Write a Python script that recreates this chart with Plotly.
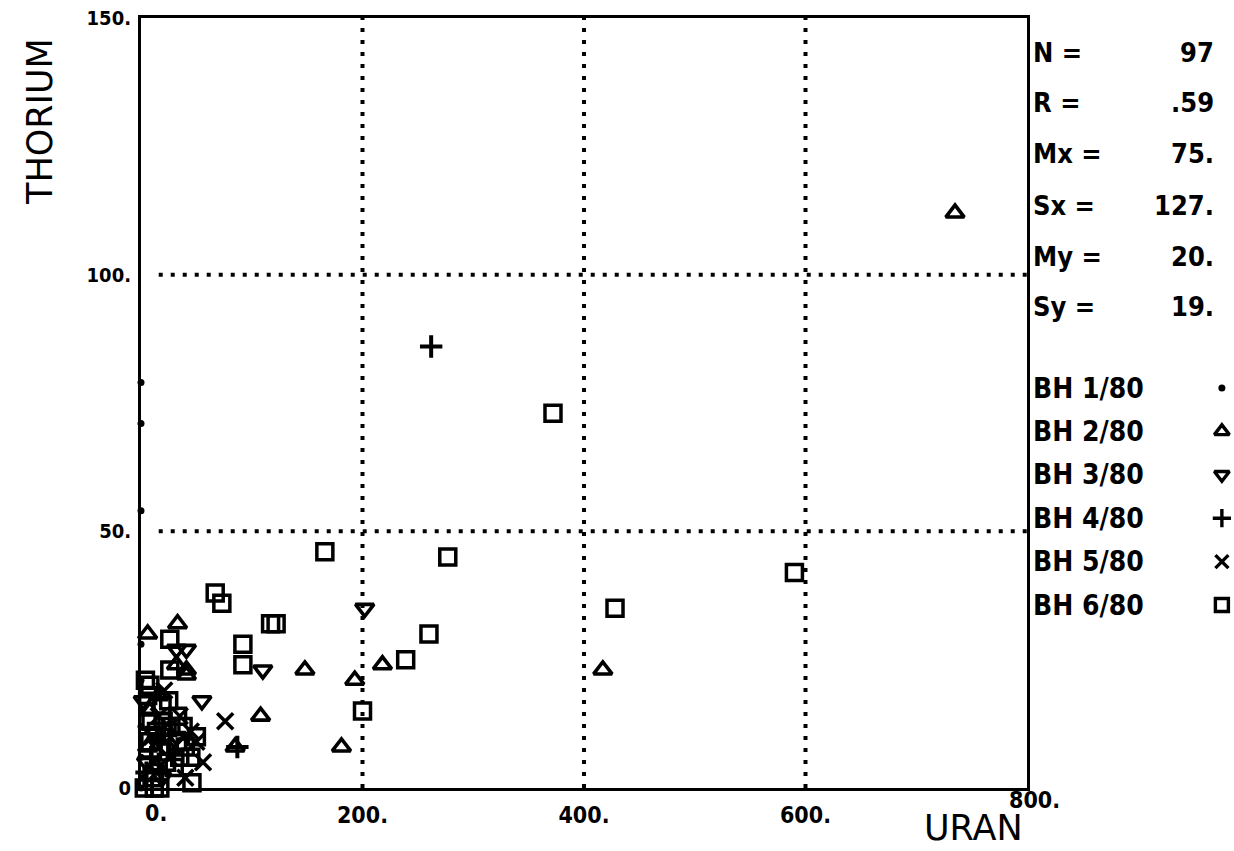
import plotly.graph_objects as go

# ---------------- data ----------------
bh1_x = [0, 0, 0, 0, 0, 0, 0, 1, 1, 0]
bh1_y = [79, 71, 54, 28, 21, 12, 6, 2, 15, 0]

bh2_x = [735, 417, 148, 193, 218, 181, 108, 85, 33, 6, 41, 32, 41, 6, 14, 24, 8, 16]
bh2_y = [112, 23, 23, 21, 24, 8, 14, 8, 32, 30, 22, 24, 23, 8, 4, 11, 15, 18]

bh3_x = [202, 110, 55, 32, 41, 2, 5, 19, 12, 32]
bh3_y = [35, 23, 17, 27, 27, 17, 5, 2, 11, 10]

bh4_x = [262, 87, 9, 18, 5]
bh4_y = [86, 8, 6, 9, 3]

bh5_x = [76, 56, 35, 45, 25, 16, 40, 30, 10, 50, 14, 21]
bh5_y = [13, 5, 14, 11, 6, 14, 2, 8, 10, 9, 3, 19]

bh6_x = [372, 166, 277, 590, 428, 260, 239, 200, 67, 73, 117, 122, 92, 92, 46,
         26, 26, 4, 8, 3, 12, 9, 14, 20, 27, 33, 17, 23, 30, 12, 35, 40, 45, 8,
         19, 25, 6, 10, 17, 33, 38, 50]
bh6_y = [73, 46, 45, 42, 35, 30, 25, 15, 38, 36, 32, 32, 28, 24, 1,
         29, 23, 21, 20, 0, 0, 13, 11, 13, 12, 9, 7, 5, 4, 3, 6, 8, 6, 9,
         16, 17, 18, 2, 0, 14, 12, 10]

group_names = ["BH 1/80", "BH 2/80", "BH 3/80", "BH 4/80", "BH 5/80", "BH 6/80"]

stat_labels = ["N =", "R =", "Mx =", "Sx =", "My =", "Sy ="]
stat_values = ["97", ".59", "75.", "127.", "20.", "19."]

x_ticks = [0, 200, 400, 600, 800]
x_ticktext = ["0.", "200.", "400.", "600.", "800."]
y_ticks = [0, 50, 100, 150]
y_ticktext = ["0", "50.", "100.", "150."]
x_grid = [200, 400, 600]
y_grid = [50, 100]

# ---------------- styling ----------------
W, H = 1234, 851
ML, MR, MT, MB = 141, 4, 18, 63
PW, PH = W - ML - MR, H - MT - MB
PLOT_RIGHT = 1027
xdom_right = (PLOT_RIGHT - ML) / PW

COND = "DejaVu Sans Condensed, Liberation Sans Narrow, Arial Narrow, sans-serif"
TICKFONT = dict(family=COND, size=23, color="black", weight="bold")


def px_x(px):
    return (px - ML) / PW


def px_y(py):
    return (H - MB - py) / PH


styles = [
    dict(symbol="circle", size=7, color="black", line=dict(width=0)),
    dict(symbol="triangle-up-open", size=16, color="black", line=dict(width=3.6, color="black")),
    dict(symbol="triangle-down-open", size=16, color="black", line=dict(width=3.6, color="black")),
    dict(symbol="cross-thin", size=16, color="black", line=dict(width=4, color="black")),
    dict(symbol="x-thin", size=16, color="black", line=dict(width=3.5, color="black")),
    dict(symbol="square-open", size=16, color="black", line=dict(width=3.5, color="black")),
]
xs = [bh1_x, bh2_x, bh3_x, bh4_x, bh5_x, bh6_x]
ys = [bh1_y, bh2_y, bh3_y, bh4_y, bh5_y, bh6_y]

fig = go.Figure()
for name, gx, gy, st in zip(group_names, xs, ys, styles):
    fig.add_trace(go.Scatter(x=gx, y=gy, mode="markers", name=name,
                             marker=st, cliponaxis=False, showlegend=False,
                             xaxis="x", yaxis="y"))

# legend keys on a side axis (row index = legend order)
legend_row0_py, legend_step = 388, 43.4
for i, st in enumerate(styles):
    key = dict(st)
    if i > 0:
        key = dict(st, size=13, line=dict(width=3.4, color="black"))
    fig.add_trace(go.Scatter(x=[0.96], y=[i], mode="markers", marker=key,
                             showlegend=False, xaxis="x2", yaxis="y2",
                             cliponaxis=False, hoverinfo="skip"))

y2_top = (MT - legend_row0_py) / legend_step
y2_bot = (H - MB - legend_row0_py) / legend_step

shapes = []
for gx in x_grid:
    shapes.append(dict(type="line", xref="x", yref="y domain", x0=gx, x1=gx, y0=0, y1=1,
                       line=dict(color="black", width=4, dash="4px,8px"), layer="below"))
for gy in y_grid:
    shapes.append(dict(type="line", xref="x domain", yref="y", x0=0.02, x1=1, y0=gy, y1=gy,
                       line=dict(color="black", width=4, dash="4px,8px"), layer="below"))

annotations = []
stat_row0_py, stat_step = 52, 51
for i, (lab, val) in enumerate(zip(stat_labels, stat_values)):
    py = stat_row0_py + i * stat_step
    annotations.append(dict(xref="paper", yref="paper", x=px_x(1031), y=px_y(py),
                            text=lab, showarrow=False, xanchor="left", yanchor="middle",
                            font=dict(family=COND, size=27, color="black", weight="bold")))
    annotations.append(dict(xref="paper", yref="paper", x=px_x(1216), y=px_y(py),
                            text=val, showarrow=False, xanchor="right", yanchor="middle",
                            font=dict(family=COND, size=27, color="black", weight="bold")))
for i, name in enumerate(group_names):
    py = legend_row0_py + i * legend_step
    annotations.append(dict(xref="paper", yref="paper", x=px_x(1031), y=px_y(py),
                            text=name, showarrow=False, xanchor="left", yanchor="middle",
                            font=dict(family=COND, size=28, color="black", weight="bold")))

# first and last x tick labels sit offset like in the original print
annotations.append(dict(xref="x", yref="y", x=x_ticks[0], y=0, text=x_ticktext[0],
                        showarrow=False, xanchor="left", yanchor="top", xshift=2, yshift=-10,
                        font=TICKFONT))
annotations.append(dict(xref="x", yref="y", x=x_ticks[-1], y=0, text=x_ticktext[-1],
                        showarrow=False, xanchor="left", yanchor="top", xshift=-20, yshift=3,
                        font=TICKFONT))

annotations.append(dict(xref="paper", yref="paper", x=px_x(40), y=px_y(122),
                        text="THORIUM", textangle=-90, showarrow=False,
                        xanchor="center", yanchor="middle",
                        font=dict(family="DejaVu Sans", size=35, color="black")))
annotations.append(dict(xref="paper", yref="paper", x=px_x(973), y=px_y(828),
                        text="URAN", showarrow=False, xanchor="center", yanchor="middle",
                        font=dict(family="DejaVu Sans", size=35, color="black")))

mid_ticktext = [t if 0 < i < len(x_ticktext) - 1 else "" for i, t in enumerate(x_ticktext)]

fig.update_layout(
    template="none",
    width=W, height=H,
    margin=dict(l=ML, r=MR, t=MT, b=MB),
    paper_bgcolor="white", plot_bgcolor="white",
    showlegend=False,
    xaxis=dict(domain=[0, xdom_right], range=[0, 800], showgrid=False, zeroline=False,
               showline=True, mirror=True, linewidth=3, linecolor="black",
               tickmode="array", tickvals=x_ticks, ticktext=mid_ticktext, ticks="",
               ticklabelstandoff=4, tickfont=TICKFONT),
    yaxis=dict(domain=[0, 1], range=[0, 150], showgrid=False, zeroline=False,
               showline=True, mirror=True, linewidth=3, linecolor="black",
               tickmode="array", tickvals=y_ticks, ticktext=y_ticktext, ticks="",
               ticklabelstandoff=3,
               tickfont=dict(family=COND, size=20, color="black", weight="bold")),
    xaxis2=dict(domain=[xdom_right, 1], range=[0, 1], visible=False, anchor="y2"),
    yaxis2=dict(domain=[0, 1], range=[y2_bot, y2_top], visible=False, anchor="x2"),
    shapes=shapes,
    annotations=annotations,
)

fig.write_html("out.html", config={"displayModeBar": False},
               post_script="document.body.style.margin='0';")
